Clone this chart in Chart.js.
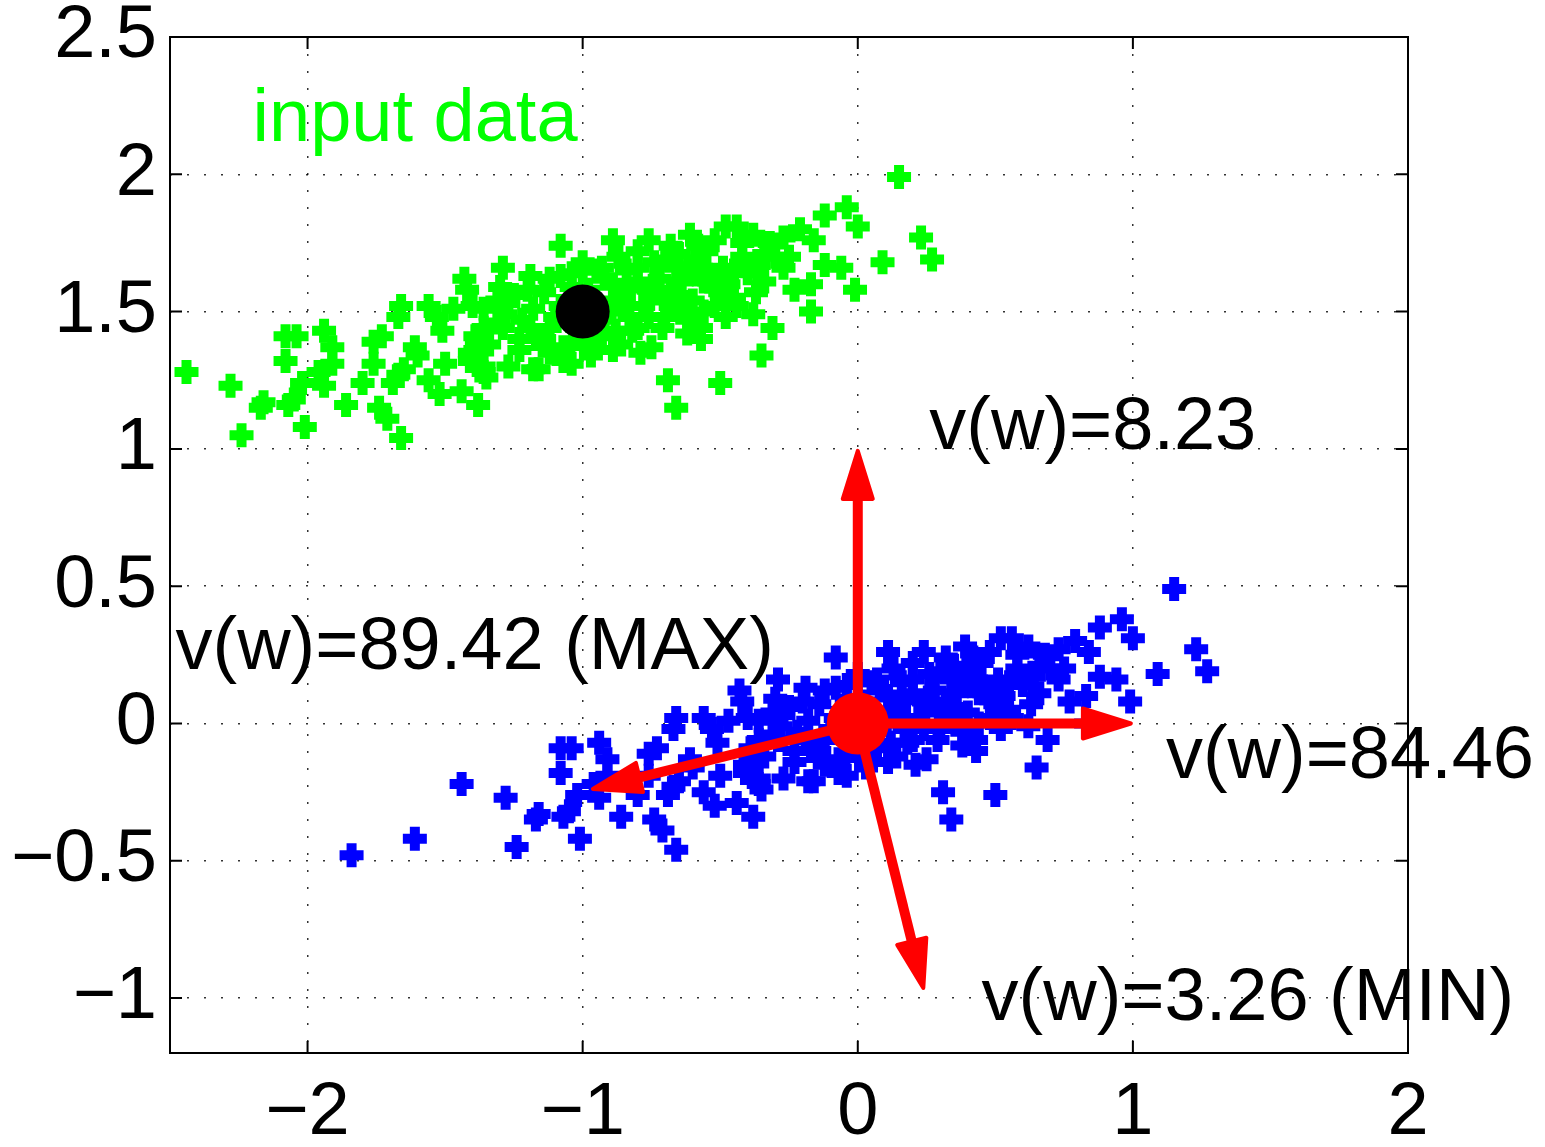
<!DOCTYPE html>
<html>
<head>
<meta charset="utf-8">
<script src="https://cdn.jsdelivr.net/npm/chart.js@4.4.1/dist/chart.umd.min.js"></script>
<style>
  html, body { margin: 0; padding: 0; background: #fff; }
  canvas { display: block; }
</style>
</head>
<body>
<canvas id="chart" width="1545" height="1147"></canvas>
<script>
// input data (green) and the same points moved to the origin (blue)
const greenX = [
  -2.44, -2.28, -2.24, -2.17, -2.16, -2.07, -2.05, -2.01, -2.08, -2.04,
  -2.08, -1.94, -1.91, -1.91, -1.94, -2.02, -1.96, -1.86, -1.80, -1.76,
  -1.73, -1.76, -1.74, -1.71, -1.66, -1.66, -1.67, -1.65, -1.67, -1.69,
  -1.61, -1.60, -1.56, -1.53, -1.51, -1.56, -1.52, -1.50, -1.47, -1.43,
  -1.42, -1.44, -1.38, -1.40, -1.36, -1.39, -1.41, -1.36, -1.29, -1.30,
  -1.27, -1.31, -1.27, -1.23, -1.23, -1.19, -1.14, -1.16, -1.08, -1.08,
  -1.07, 0.15, 0.23, 0.27, 0.09, -0.01, 0.00, -0.04, -0.12, -0.21,
  -0.16, -0.27, -0.25, -0.23, -0.17, -0.12, -0.06, -0.17, -0.31, -0.35,
  -0.50, -0.66, -0.69, -0.57, -0.62, -0.75, -0.79, -0.89, -0.97, -0.89,
  -0.76, -0.61, -0.48, -0.44, -0.38, -0.34, -0.27, -0.38, -0.44, -0.34,
  -0.37, -0.50, -0.49, -0.55, -0.65, -0.70, -0.74, -0.80, -0.87, -0.84,
  -0.93, -1.00, -0.64, -0.60, -0.68, -0.73, -0.78, -0.83, -0.88, -0.82,
  -0.94, -0.62, -0.71, -0.45, -0.42, -0.54, -0.88, -0.45, -1.31, -1.28,
  -1.18, -1.19, -1.29, -1.36, -1.39, -1.34, -1.41, -1.36, -1.35, -1.17,
  -1.12, -1.08, -1.18, -1.12, -1.07, -1.01, -0.97, -0.80, -0.57, -0.64,
  -0.70, -0.76, -0.66, -0.59, -0.56, -0.85, -0.89, -0.95, -1.00, -1.04,
  -0.92, -1.04, -0.97, -1.00, -0.96, -1.03, -2.84, -2.61,
  -0.98, -0.92, -0.86, -0.80, -0.72, -0.68, -0.62, -0.57, -0.52, -0.47,
  -0.40, -0.36, -0.30, -0.32, -0.42, -0.52, -0.58, -0.68, -0.80, -0.90,
  -0.84, -0.76, -0.70, -0.66, -0.52, -0.48, -0.56, -1.10, -1.14, -1.22,
  -1.25, -1.20, -1.12, -1.04, -1.02, -0.93, -0.86
];
const greenY = [
  1.28, 1.23, 1.05, 1.15, 1.17, 1.16, 1.18, 1.08, 1.41, 1.41,
  1.32, 1.43, 1.37, 1.31, 1.23, 1.24, 1.28, 1.16, 1.24, 1.39,
  1.41, 1.31, 1.15, 1.11, 1.04, 1.52, 1.48, 1.29, 1.27, 1.24,
  1.37, 1.34, 1.52, 1.48, 1.43, 1.25, 1.20, 1.31, 1.51, 1.62,
  1.58, 1.21, 1.16, 1.52, 1.51, 1.41, 1.35, 1.28, 1.66, 1.59,
  1.53, 1.46, 1.30, 1.40, 1.36, 1.63, 1.57, 1.29, 1.74, 1.63,
  1.32, 1.99, 1.77, 1.69, 1.68, 1.58, 1.81, 1.88, 1.85, 1.80,
  1.76, 1.77, 1.70, 1.58, 1.60, 1.67, 1.66, 1.50, 1.44, 1.34,
  1.24, 1.15, 1.25, 1.40, 1.42, 1.37, 1.35, 1.36, 1.40, 1.76,
  1.76, 1.78, 1.81, 1.81, 1.78, 1.71, 1.66, 1.49, 1.52, 1.61,
  1.57, 1.57, 1.66, 1.72, 1.71, 1.69, 1.68, 1.61, 1.70, 1.65,
  1.66, 1.65, 1.61, 1.54, 1.52, 1.57, 1.52, 1.48, 1.43, 1.43,
  1.47, 1.47, 1.44, 1.65, 1.70, 1.61, 1.54, 1.55, 1.54, 1.49,
  1.51, 1.44, 1.44, 1.44, 1.36, 1.38, 1.32, 1.30, 1.26, 1.40,
  1.44, 1.52, 1.29, 1.35, 1.37, 1.40, 1.37, 1.44, 1.44, 1.51,
  1.54, 1.58, 1.66, 1.69, 1.61, 1.55, 1.60, 1.65, 1.68, 1.59,
  1.48, 1.31, 1.34, 1.50, 1.53, 1.47, 1.02, 1.08,
  1.58, 1.62, 1.58, 1.66, 1.62, 1.58, 1.64, 1.66, 1.62, 1.60,
  1.64, 1.67, 1.70, 1.75, 1.75, 1.76, 1.74, 1.74, 1.72, 1.50,
  1.52, 1.48, 1.48, 1.56, 1.52, 1.48, 1.50, 1.48, 1.40, 1.47,
  1.56, 1.58, 1.62, 1.64, 1.44, 1.41, 1.38
];
const blueX = [
  -1.44, -1.28, -1.24, -1.17, -1.16, -1.07, -1.05, -1.01, -1.08, -1.04,
  -1.08, -0.94, -0.91, -0.91, -0.94, -1.02, -0.96, -0.86, -0.80, -0.76,
  -0.73, -0.76, -0.74, -0.71, -0.66, -0.66, -0.67, -0.65, -0.67, -0.69,
  -0.61, -0.60, -0.56, -0.53, -0.51, -0.56, -0.52, -0.50, -0.47, -0.43,
  -0.42, -0.44, -0.38, -0.40, -0.36, -0.39, -0.41, -0.36, -0.29, -0.30,
  -0.27, -0.31, -0.27, -0.23, -0.23, -0.19, -0.14, -0.16, -0.08, -0.08,
  -0.07, 1.15, 1.23, 1.27, 1.09, 0.99, 1.00, 0.96, 0.88, 0.79,
  0.84, 0.73, 0.75, 0.77, 0.83, 0.88, 0.94, 0.83, 0.69, 0.65,
  0.50, 0.34, 0.31, 0.43, 0.38, 0.25, 0.21, 0.11, 0.03, 0.11,
  0.24, 0.39, 0.52, 0.56, 0.62, 0.66, 0.73, 0.62, 0.56, 0.66,
  0.63, 0.50, 0.51, 0.45, 0.35, 0.30, 0.26, 0.20, 0.13, 0.16,
  0.07, 0.00, 0.36, 0.40, 0.32, 0.27, 0.22, 0.17, 0.12, 0.18,
  0.06, 0.38, 0.29, 0.55, 0.58, 0.46, 0.12, 0.55, -0.31, -0.28,
  -0.18, -0.19, -0.29, -0.36, -0.39, -0.34, -0.41, -0.36, -0.35, -0.17,
  -0.12, -0.08, -0.18, -0.12, -0.07, -0.01, 0.03, 0.20, 0.43, 0.36,
  0.30, 0.24, 0.34, 0.41, 0.44, 0.15, 0.11, 0.05, 0.00, -0.04,
  0.08, -0.04, 0.03, 0.00, 0.04, -0.03, -1.84, -1.61,
  0.02, 0.08, 0.14, 0.20, 0.28, 0.32, 0.38, 0.43, 0.48, 0.53,
  0.60, 0.64, 0.70, 0.68, 0.58, 0.48, 0.42, 0.32, 0.20, 0.10,
  0.16, 0.24, 0.30, 0.34, 0.48, 0.52, 0.44, -0.10, -0.14, -0.22,
  -0.25, -0.20, -0.12, -0.04, -0.02, 0.07, 0.14
];
const blueY = [
  -0.22, -0.27, -0.45, -0.35, -0.33, -0.34, -0.32, -0.42, -0.09, -0.09,
  -0.18, -0.07, -0.13, -0.19, -0.27, -0.26, -0.22, -0.34, -0.26, -0.11,
  -0.09, -0.19, -0.35, -0.39, -0.46, 0.02, -0.02, -0.21, -0.23, -0.26,
  -0.13, -0.16, 0.02, -0.02, -0.07, -0.25, -0.30, -0.19, 0.01, 0.12,
  0.08, -0.29, -0.34, 0.02, 0.01, -0.09, -0.15, -0.22, 0.16, 0.09,
  0.03, -0.04, -0.20, -0.10, -0.14, 0.13, 0.07, -0.21, 0.24, 0.13,
  -0.18, 0.49, 0.27, 0.19, 0.18, 0.08, 0.31, 0.38, 0.35, 0.30,
  0.26, 0.27, 0.20, 0.08, 0.10, 0.17, 0.16, 0.00, -0.06, -0.16,
  -0.26, -0.35, -0.25, -0.10, -0.08, -0.13, -0.15, -0.14, -0.10, 0.26,
  0.26, 0.28, 0.31, 0.31, 0.28, 0.21, 0.16, -0.01, 0.02, 0.11,
  0.07, 0.07, 0.16, 0.22, 0.21, 0.19, 0.18, 0.11, 0.20, 0.15,
  0.16, 0.15, 0.11, 0.04, 0.02, 0.07, 0.02, -0.02, -0.07, -0.07,
  -0.03, -0.03, -0.06, 0.15, 0.20, 0.11, 0.04, 0.05, 0.04, -0.01,
  0.01, -0.06, -0.06, -0.06, -0.14, -0.12, -0.18, -0.20, -0.24, -0.10,
  -0.06, 0.02, -0.21, -0.15, -0.13, -0.10, -0.13, -0.06, -0.06, 0.01,
  0.04, 0.08, 0.16, 0.19, 0.11, 0.05, 0.10, 0.15, 0.18, 0.09,
  -0.02, -0.19, -0.16, 0.00, 0.03, -0.03, -0.48, -0.42,
  0.08, 0.12, 0.08, 0.16, 0.12, 0.08, 0.14, 0.16, 0.12, 0.10,
  0.14, 0.17, 0.20, 0.25, 0.25, 0.26, 0.24, 0.24, 0.22, 0.00,
  0.02, -0.02, -0.02, 0.06, 0.02, -0.02, 0.00, -0.02, -0.10, -0.03,
  0.06, 0.08, 0.12, 0.14, -0.06, -0.09, -0.12
];

// mean of the input data (black) and the origin (red)
const meanX = [-1];
const meanY = [1.5];
const originX = [0];
const originY = [0];

// direction vectors w drawn as arrows from the origin
const arrowX = [0, 1, 0.24, -0.97];
const arrowY = [1, 0, -0.97, -0.24];

// annotations, anchored at the text's left baseline
const noteText = ["input data", "v(w)=8.23", "v(w)=89.42 (MAX)", "v(w)=84.46", "v(w)=3.26 (MIN)"];
const noteX = [-2.20, 0.26, -2.48, 1.12, 0.45];
const noteY = [2.12, 1.00, 0.20, -0.20, -1.08];

const xTicks = [-2, -1, 0, 1, 2];
const xTickLabels = ["\u22122", "\u22121", "0", "1", "2"];
const yTicks = [-1, -0.5, 0, 0.5, 1, 1.5, 2, 2.5];
const yTickLabels = ["\u22121", "\u22120.5", "0", "0.5", "1", "1.5", "2", "2.5"];

const FONT_FAMILY = '"Liberation Sans", Arial, Helvetica, sans-serif';
const FONT_SIZE = 74;
const toPoints = (xs, ys) => xs.map((x, i) => ({ x, y: ys[i] }));

const arrowsPlugin = {
  id: "arrows",
  afterDatasetsDraw(chart) {
    const { ctx, scales: { x, y } } = chart;
    const x0 = x.getPixelForValue(0);
    const y0 = y.getPixelForValue(0);
    ctx.save();
    ctx.strokeStyle = "#ff0000";
    ctx.fillStyle = "#ff0000";
    arrowX.forEach((vx, i) => {
      const x1 = x.getPixelForValue(vx);
      const y1 = y.getPixelForValue(arrowY[i]);
      const len = Math.hypot(x1 - x0, y1 - y0);
      const ux = (x1 - x0) / len, uy = (y1 - y0) / len;
      const bx = x1 - ux * 50, by = y1 - uy * 50;
      ctx.lineWidth = 10;
      ctx.lineCap = "butt";
      ctx.beginPath();
      ctx.moveTo(x0, y0);
      ctx.lineTo(bx + ux * 6, by + uy * 6);
      ctx.stroke();
      // head
      ctx.lineWidth = 4;
      ctx.lineJoin = "round";
      ctx.beginPath();
      ctx.moveTo(x1 - ux * 2, y1 - uy * 2);
      ctx.lineTo(bx - uy * 15, by + ux * 15);
      ctx.lineTo(bx + uy * 15, by - ux * 15);
      ctx.closePath();
      ctx.fill();
      ctx.stroke();
    });
    ctx.restore();
  }
};

const framePlugin = {
  id: "frame",
  afterDraw(chart) {
    const { ctx, chartArea: a, scales: { x, y } } = chart;
    ctx.save();
    ctx.strokeStyle = "#000";
    ctx.lineWidth = 2;
    ctx.strokeRect(a.left, a.top, a.right - a.left, a.bottom - a.top);
    ctx.beginPath();
    xTicks.forEach(v => {
      const px = x.getPixelForValue(v);
      ctx.moveTo(px, a.bottom); ctx.lineTo(px, a.bottom - 12);
      ctx.moveTo(px, a.top); ctx.lineTo(px, a.top + 12);
    });
    yTicks.forEach(v => {
      const py = y.getPixelForValue(v);
      ctx.moveTo(a.left, py); ctx.lineTo(a.left + 12, py);
      ctx.moveTo(a.right, py); ctx.lineTo(a.right - 12, py);
    });
    ctx.stroke();

    ctx.font = FONT_SIZE + "px " + FONT_FAMILY;
    ctx.textAlign = "left";
    ctx.textBaseline = "alphabetic";
    noteText.forEach((t, i) => {
      ctx.fillStyle = i === 0 ? "#00ff00" : "#000";
      ctx.fillText(t, x.getPixelForValue(noteX[i]), y.getPixelForValue(noteY[i]));
    });
    ctx.restore();
  }
};

const tickFont = { family: FONT_FAMILY, size: FONT_SIZE, lineHeight: 1.0 };

new Chart(document.getElementById("chart").getContext("2d"), {
  type: "scatter",
  data: {
    datasets: [
      {
        data: toPoints(originX, originY),
        pointStyle: "circle",
        pointRadius: 31,
        pointBorderWidth: 0,
        backgroundColor: "#ff0000",
        borderColor: "#ff0000"
      },
      {
        data: toPoints(meanX, meanY),
        pointStyle: "circle",
        pointRadius: 27,
        pointBorderWidth: 0,
        backgroundColor: "#000000",
        borderColor: "#000000"
      },
      {
        data: toPoints(blueX, blueY),
        pointStyle: "cross",
        pointRadius: 12,
        pointBorderWidth: 10,
        borderColor: "#0000ff",
        backgroundColor: "#0000ff",
        clip: 0
      },
      {
        data: toPoints(greenX, greenY),
        pointStyle: "cross",
        pointRadius: 12,
        pointBorderWidth: 10,
        borderColor: "#00ff00",
        backgroundColor: "#00ff00",
        clip: 0
      }
    ]
  },
  options: {
    responsive: false,
    animation: false,
    events: [],
    layout: { padding: { top: 37, right: 137, bottom: 0, left: 0 } },
    plugins: { legend: { display: false }, tooltip: { enabled: false } },
    scales: {
      x: {
        type: "linear",
        min: -2.5,
        max: 2,
        afterBuildTicks: s => { s.ticks = xTicks.map(v => ({ value: v })); },
        afterFit: s => { s.height = 94; s.paddingLeft = 0; s.paddingRight = 0; },
        grid: { color: "rgba(0,0,0,0.8)", lineWidth: 1.5, drawTicks: false },
        border: { display: false, dash: [2, 15] },
        ticks: {
          font: tickFont,
          color: "#000",
          padding: 24,
          maxRotation: 0,
          autoSkip: false,
          callback: (v, i) => xTickLabels[i]
        }
      },
      y: {
        type: "linear",
        min: -1.2,
        max: 2.5,
        afterBuildTicks: s => { s.ticks = yTicks.map(v => ({ value: v })); },
        afterFit: s => { s.width = 170; s.paddingTop = 0; s.paddingBottom = 0; },
        grid: { color: "rgba(0,0,0,0.8)", lineWidth: 1.5, drawTicks: false },
        border: { display: false, dash: [2, 15] },
        ticks: {
          font: tickFont,
          color: "#000",
          padding: 13,
          autoSkip: false,
          callback: (v, i) => yTickLabels[i]
        }
      }
    }
  },
  plugins: [arrowsPlugin, framePlugin]
});
</script>
</body>
</html>
